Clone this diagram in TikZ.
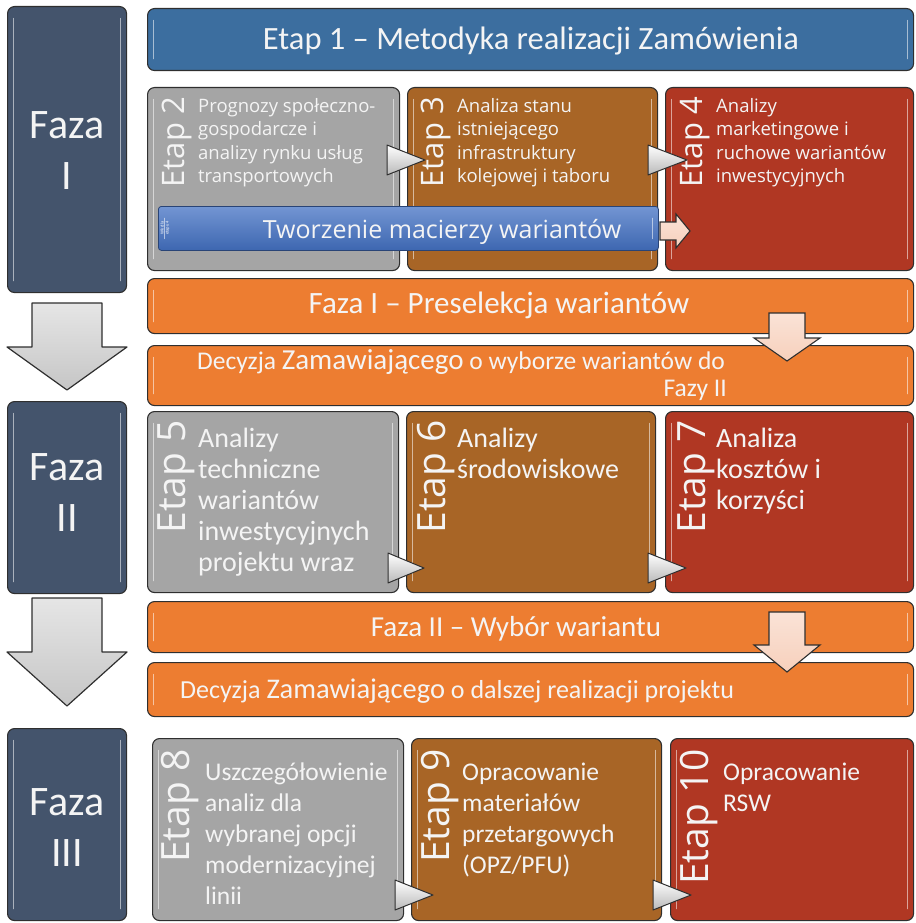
\documentclass[tikz,border=0pt]{standalone}
\usepackage{fontspec}
\setmainfont{Carlito}
\newfontfamily\osf{Open Sans}
\usetikzlibrary{calc}
\definecolor{slate}{HTML}{44546C}
\definecolor{steel}{HTML}{3C6E9F}
\definecolor{gry}{HTML}{A5A5A5}
\definecolor{brn}{HTML}{A86526}
\definecolor{rd}{HTML}{B03723}
\definecolor{org}{HTML}{ED7D31}
\definecolor{blu}{HTML}{4472C4}
\definecolor{edge}{HTML}{2F2F2F}
\definecolor{txt}{HTML}{F4F4F4}
\definecolor{pnk}{HTML}{F7D0BC}
\newcommand\fs[2]{\fontsize{#1}{#2}\selectfont}
\tikzset{
 gl/.style={path picture={
   \draw[white,opacity=.55,line width=1.5pt,line cap=round]
     ([xshift=6pt,yshift=-12pt]path picture bounding box.north west) --
     ([xshift=6pt,yshift=12pt]path picture bounding box.south west);
   \draw[white,opacity=.55,line width=1.5pt,line cap=round]
     ([xshift=-6pt,yshift=-12pt]path picture bounding box.north east) --
     ([xshift=-6pt,yshift=12pt]path picture bounding box.south east);}},
 box/.style={draw=edge,line width=1.1pt,rounded corners=7pt,inner sep=0pt,anchor=north west,gl},
 lbl/.style={rotate=90,anchor=east,inner sep=0pt,text=txt},
 body/.style={anchor=base west,align=left,inner sep=0pt,text=txt},
 btxt/.style={anchor=base,inner sep=0pt,text=txt},
 tri/.style={draw=edge,line width=1pt,line join=round,top color=white,bottom color=gray!55},
 bigarr/.style={draw=edge,line width=1.2pt,line join=round,top color=gray!20,bottom color=gray!45},
 smarr/.style={draw=edge,line width=1.1pt,line join=miter,top color=pnk!60!white,bottom color=pnk},
}
\begin{document}
\begin{tikzpicture}[x=1pt,y=-1pt]
\useasboundingbox (0,0) rectangle (915,923);
% ---------- phase boxes (multi-line nodes: base = last line) ----------
\node[box,fill=slate,minimum width=119pt,minimum height=286pt] (f1) at (7,6) {};
\node[btxt,align=center,font=\fs{42}{51}] (f1t) at (67,189) {Faza\\I};
\node[box,fill=slate,minimum width=119pt,minimum height=192pt] (f2) at (7,401) {};
\node[btxt,align=center,font=\fs{42}{51}] (f2t) at (67,531) {Faza\\II};
\node[box,fill=slate,minimum width=119pt,minimum height=192pt] (f3) at (7,728) {};
\node[btxt,align=center,font=\fs{42}{51}] (f3t) at (67,866) {Faza\\III};
\path[bigarr] (32,303) -- (102,303) -- (102,347) -- (127,347) -- (67,390) -- (7,347) -- (32,347) -- cycle;
\path[bigarr] (32,598) -- (102,598) -- (102,652) -- (127,652) -- (67,706) -- (7,652) -- (32,652) -- cycle;
% ---------- Etap 1 ----------
\node[box,fill=steel,minimum width=766pt,minimum height=62pt] (s1) at (147,8) {};
\node[btxt,font=\fs{32.5}{36}] (s1t) at (531,50) {Etap 1 – Metodyka realizacji Zamówienia};
% ---------- phase I ----------
\node[box,fill=gry,minimum width=252pt,minimum height=183pt] (e2) at (147,87) {};
\node[box,fill=brn,minimum width=250pt,minimum height=183pt] (e3) at (407,87) {};
\node[box,fill=rd,minimum width=248pt,minimum height=183pt] (e4) at (665,87) {};
\node[lbl,font=\osf\fs{31}{34}] (e2l) at (177,97) {Etap 2};
\node[lbl,font=\osf\fs{31}{34}] (e3l) at (436,97) {Etap 3};
\node[lbl,font=\osf\fs{31}{34}] (e4l) at (695,97) {Etap 4};
\node[body,font=\osf\fs{18.5}{23.5}] (e2t) at (198,182.5) {Prognozy społeczno-\\gospodarcze i\\analizy rynku usług\\transportowych};
\node[body,font=\osf\fs{18.5}{23.5}] (e3t) at (457,182.5) {Analiza stanu\\istniejącego\\infrastruktury\\kolejowej i taboru};
\node[body,font=\osf\fs{18.5}{23.5}] (e4t) at (716,182.5) {Analizy\\marketingowe i\\ruchowe wariantów\\inwestycyjnych};
\node[box,draw=blu!60!black,line width=0.8pt,top color=blu!75!white,bottom color=blu!90!black,rounded corners=3pt,minimum width=500pt,minimum height=44pt] (tm) at (158,206) {};
\node[btxt,font=\osf\fs{25}{28}] (tmt) at (442,238) {Tworzenie macierzy wariantów};
\node[rotate=90,font=\fs{4.5}{5},align=center,text=white,inner sep=0pt] (wk) at (165,228) {Wk dla\\etapu 4};
\path[smarr] (660,222) -- (676,222) -- (676,214) -- (690,231) -- (676,248) -- (676,240) -- (660,240) -- cycle;
\path[tri] (387,145) -- (425,160) -- (387,175) -- cycle;
\path[tri] (648,145) -- (687,160) -- (648,175) -- cycle;
% ---------- bars after phase I ----------
\node[box,fill=org,minimum width=766pt,minimum height=55pt] (p1) at (147,278) {};
\node[btxt,font=\fs{31}{34}] (p1t) at (499,313) {Faza I – Preselekcja wariantów};
\node[box,fill=org,minimum width=766pt,minimum height=60pt] (d1) at (147,345) {};
\node[body,font=\fs{25.5}{28}] (d1t) at (197,369) {Decyzja {\fs{29}{28}Zamawiającego} o wyborze wariantów do};
\node[anchor=base east,inner sep=0pt,text=txt,font=\fs{25.5}{28}] (d1u) at (727,396) {Fazy II};
\path[smarr] (769,313) -- (805,313) -- (805,338) -- (820,338) -- (787,361) -- (754,338) -- (769,338) -- cycle;
% ---------- phase II ----------
\node[box,fill=gry,minimum width=251pt,minimum height=181pt] (e5) at (147,411) {};
\node[box,fill=brn,minimum width=249pt,minimum height=181pt] (e6) at (406,411) {};
\node[box,fill=rd,minimum width=248pt,minimum height=181pt] (e7) at (665,411) {};
\node[lbl,font=\osf\fs{39}{42}] (e5l) at (176,420) {Etap 5};
\node[lbl,font=\osf\fs{39}{42}] (e6l) at (436,420) {Etap 6};
\node[lbl,font=\osf\fs{39}{42}] (e7l) at (696,420) {Etap 7};
\node[body,font=\fs{28}{31}] (e5t) at (198,571) {Analizy\\techniczne\\wariantów\\inwestycyjnych\\projektu wraz};
\node[body,font=\fs{28}{31}] (e6t) at (457,478) {Analizy\\środowiskowe};
\node[body,font=\fs{28}{31}] (e7t) at (716,509) {Analiza\\kosztów i\\korzyści};
\path[tri] (388,553) -- (424,568) -- (388,583) -- cycle;
\path[tri] (648,553) -- (686,568) -- (648,583) -- cycle;
% ---------- bars after phase II ----------
\node[box,fill=org,minimum width=766pt,minimum height=51pt] (p2) at (147,601) {};
\node[btxt,font=\fs{29}{30}] (p2t) at (516,636) {Faza II – Wybór wariantu};
\node[box,fill=org,minimum width=766pt,minimum height=54pt] (d2) at (147,662) {};
\node[body,font=\fs{26}{28}] (d2t) at (180,698) {Decyzja {\fs{28.5}{28}Zamawiającego} o dalszej realizacji projektu};
\path[smarr] (769,612) -- (805,612) -- (805,645) -- (820,645) -- (787,672) -- (754,645) -- (769,645) -- cycle;
% ---------- phase III ----------
\node[box,fill=gry,minimum width=251pt,minimum height=182pt] (e8) at (152,738) {};
\node[box,fill=brn,minimum width=250pt,minimum height=182pt] (e9) at (411,738) {};
\node[box,fill=rd,minimum width=243pt,minimum height=182pt] (e10) at (670,738) {};
\node[lbl,font=\osf\fs{39}{42}] (e8l) at (180,749) {Etap 8};
\node[lbl,font=\osf\fs{39}{42}] (e9l) at (440,749) {Etap 9};
\node[lbl,font=\osf\fs{39}{42}] (e10l) at (699,749) {Etap 10};
\node[body,font=\fs{25.5}{31}] (e8t) at (205,904) {Uszczegółowienie\\analiz dla\\wybranej opcji\\modernizacyjnej\\linii};
\node[body,font=\fs{25.5}{31}] (e9t) at (462,873) {Opracowanie\\materiałów\\przetargowych\\(OPZ/PFU)};
\node[body,font=\fs{25.5}{31}] (e10t) at (723,811) {Opracowanie\\RSW};
\path[tri] (395,880) -- (433,895) -- (395,910) -- cycle;
\path[tri] (653,880) -- (691,895) -- (653,910) -- cycle;
\end{tikzpicture}
\end{document}
